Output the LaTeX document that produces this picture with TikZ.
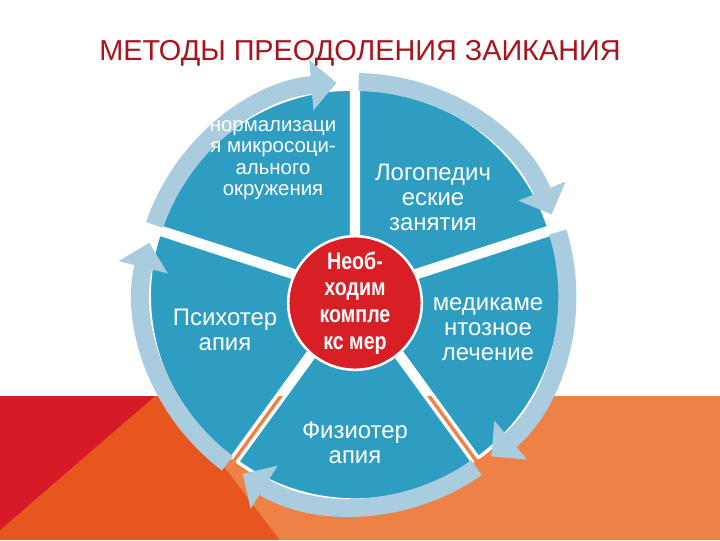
\documentclass[tikz,border=0pt]{standalone}
\usepackage{fontspec}
\setmainfont{Liberation Sans}
\newfontfamily\hubfont[FakeStretch=0.82]{Liberation Sans}
\usepackage{xcolor}
\usepackage{tikz}
\usetikzlibrary{arrows.meta, calc}

\definecolor{titlered}{HTML}{A8141E}
\definecolor{bgred}{HTML}{D71A28}
\definecolor{bgorange}{HTML}{E6561E}
\definecolor{bglight}{HTML}{EE8246}
\definecolor{pieblue}{HTML}{2E9DC2}
\definecolor{ringblue}{HTML}{A9CDDE}
\definecolor{hubred}{HTML}{D81F26}

\begin{document}
\begin{tikzpicture}[
  x=0.025cm, y=0.025cm,
  sector/.style={
    fill=pieblue,
    draw=white,
    line width=2.4pt,
    line join=round
  },
  ringarrow/.style={
    draw=ringblue,
    line width=12.8pt,
    -{Stealth[inset=0pt, length=18pt, width=35pt]}
  },
  segtext/.style={
    text=white,
    align=center,
    font=\fontsize{17}{17.8}\selectfont
  },
  hub/.style={
    circle,
    fill=hubred,
    draw=white,
    line width=1.8pt,
    minimum size=95pt,
    inner sep=0pt,
    text=white,
    align=center,
    font=\hubfont\bfseries\fontsize{17}{19}\selectfont
  }
]
\useasboundingbox (0,0) rectangle (720,540);

% Background bands
\fill[white] (0,0) rectangle (720,540);
\fill[bgorange] (0,0) rectangle (720,144);
\fill[bgred] (0,144) -- (155,144) -- (0,10) -- cycle;
\fill[bglight] (720,144) -- (720,0) -- (280,0) -- (170,144) -- cycle;

\coordinate (c) at (355,246);

% Pie sectors, each pushed out a little
\path[sector] ($(c)+(54:6)$) -- ++(18:200) arc[start angle=18, end angle=90, radius=200] -- cycle;
\path[sector] ($(c)+(126:6)$) -- ++(90:200) arc[start angle=90, end angle=162, radius=200] -- cycle;
\path[sector] ($(c)+(198:6)$) -- ++(162:200) arc[start angle=162, end angle=234, radius=200] -- cycle;
\path[sector] ($(c)+(270:6)$) -- ++(234:200) arc[start angle=234, end angle=306, radius=200] -- cycle;
\path[sector] ($(c)+(342:6)$) -- ++(306:200) arc[start angle=306, end angle=378, radius=200] -- cycle;

% Cycle arrows round the pie
\draw[ringarrow] ($(c)+(161:212)$) arc[start angle=161, end angle=95, radius=212];
\draw[ringarrow] ($(c)+(89:212)$) arc[start angle=89, end angle=22, radius=212];
\draw[ringarrow] ($(c)+(17:212)$) arc[start angle=17, end angle=-50, radius=212];
\draw[ringarrow] ($(c)+(-55:212)$) arc[start angle=-55, end angle=-122, radius=212];
\draw[ringarrow] ($(c)+(-127:212)$) arc[start angle=-127, end angle=-194, radius=212];

% Title
\node[anchor=base, text=titlered, font=\fontsize{20.5}{24}\selectfont] (title) at (360,479) {МЕТОДЫ ПРЕОДОЛЕНИЯ ЗАИКАНИЯ};

% Segment labels
\node[segtext, font=\fontsize{14.5}{15.3}\selectfont] (norm) at (273,380) {нормализаци\\я микросоци-\\ального\\окружения};
\node[segtext] (logo) at (433,343) {Логопедич\\еские\\занятия};
\node[segtext] (med) at (488,211) {медикаме\\нтозное\\лечение};
\node[segtext] (fiz) at (355,97) {Физиотер\\апия};
\node[segtext] (psy) at (225,210) {Психотер\\апия};

% Centre
\node[hub] (core) at (355,237) {Необ-\\ходим\\компле\\кс мер};
\end{tikzpicture}
\end{document}
